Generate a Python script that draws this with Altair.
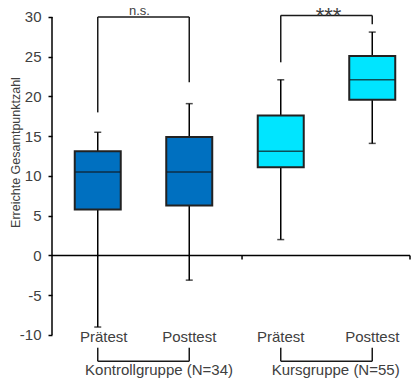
import altair as alt
import pandas as pd

# ---- data ----
tests = ["Prätest", "Posttest", "Prätest", "Posttest"]
groups = ["Kontrollgruppe (N=34)", "Kontrollgruppe (N=34)", "Kursgruppe (N=55)", "Kursgruppe (N=55)"]
positions = [0, 1, 2, 3]
whisker_low = [-9.0, -3.1, 2.0, 14.1]
q1 = [5.8, 6.3, 11.1, 19.6]
median = [10.5, 10.5, 13.1, 22.1]
q3 = [13.1, 14.9, 17.6, 25.1]
whisker_high = [15.5, 19.1, 22.1, 28.1]

group_names = ["Kontrollgruppe (N=34)", "Kursgruppe (N=55)"]
group_colors = ["#0070C0", "#00E5FF"]
group_first = [0, 2]
group_last = [1, 3]
group_label_pos = [0.67, 2.6]

sig_labels = ["n.s.", "***"]
sig_first = [0, 2]
sig_last = [1, 3]
sig_top = [30.0, 30.2]
sig_left_end = [18.0, 24.3]
sig_right_end = [21.8, 29.1]

y_ticks = [-10, -5, 0, 5, 10, 15, 20, 25, 30]

FONT = "Liberation Sans"
TXT = "#404040"
LINE = "#1a1a1a"

X_MIN, X_MAX = -0.5, 3.4126
Y_MIN, Y_MAX = -15.41, 31.13
group_sep = [1.577, X_MAX]

df = pd.DataFrame(dict(pos=positions, test=tests, group=groups, lo=whisker_low,
                       q1=q1, med=median, q3=q3, hi=whisker_high))

xscale = alt.Scale(domain=[X_MIN, X_MAX], nice=False, zero=False, padding=0)
yscale = alt.Scale(domain=[Y_MIN, Y_MAX], nice=False, zero=False, padding=0)

yaxis = alt.Axis(values=y_ticks, domain=False, grid=False, tickSize=4, tickColor="#000",
                 tickWidth=1.5, labelFontSize=15, labelColor=TXT, labelFont=FONT, labelPadding=7,
                 labelExpr="'' + datum.value",
                 title="Erreichte Gesamtpunktzahl", titleFontSize=12.5, titleFontWeight="normal",
                 titleColor=TXT, titleFont=FONT, titleX=-37, titleY=144, titleAngle=270,
                 titleAlign="center", titleBaseline="middle")


def X(f):
    return alt.X(f, type="quantitative", scale=xscale, axis=None)


def Y(f):
    return alt.Y(f, type="quantitative", scale=yscale, axis=yaxis)


base = alt.Chart(df)

# whiskers
whisk_up = base.mark_rule(color="#000", strokeWidth=1.5).encode(x=X("pos"), y=Y("q3"), y2="hi:Q")
whisk_dn = base.mark_rule(color="#000", strokeWidth=1.5).encode(x=X("pos"), y=Y("lo"), y2="q1:Q")
cap_hi = base.mark_tick(orient="horizontal", size=7, thickness=1.5, color="#000").encode(x=X("pos"), y=Y("hi"))
cap_lo = base.mark_tick(orient="horizontal", size=7, thickness=1.5, color="#000").encode(x=X("pos"), y=Y("lo"))

boxes = base.mark_bar(size=46, stroke="#222", strokeWidth=2).encode(
    x=X("pos"), y=Y("q1"), y2="q3:Q",
    color=alt.Color("group:N", scale=alt.Scale(domain=group_names, range=group_colors), legend=None))
med = base.mark_tick(orient="horizontal", size=45, thickness=1.5, color="#111").encode(x=X("pos"), y=Y("med"))

# axes lines
axis_df = pd.DataFrame({"x": [X_MIN], "y": [min(y_ticks)], "y2": [max(y_ticks)]})
y_line = alt.Chart(axis_df).mark_rule(color="#000", strokeWidth=1.5).encode(x=X("x"), y=Y("y"), y2="y2:Q")
zero_df = pd.DataFrame({"x": [X_MIN], "x2": [X_MAX], "y": [0]})
zero_line = alt.Chart(zero_df).mark_rule(color="#000", strokeWidth=1.5).encode(x=X("x"), x2="x2:Q", y=Y("y"))
sep_df = pd.DataFrame({"x": group_sep, "y": [0, 0], "y2": [-0.5, -0.5]})
sep_ticks = alt.Chart(sep_df).mark_rule(color="#000", strokeWidth=1.5).encode(x=X("x"), y=Y("y"), y2="y2:Q")

# category labels (first one sits slightly right in the reference)
cat_first = alt.Chart(df.iloc[[0]]).mark_text(font=FONT, fontSize=15, color=TXT, baseline="middle", dx=6).encode(
    x=X("pos"), y=Y("ly"), text="test:N").transform_calculate(ly="-10.2")
cat_rest = alt.Chart(df.iloc[1:]).mark_text(font=FONT, fontSize=15, color=TXT, baseline="middle").encode(
    x=X("pos"), y=Y("ly"), text="test:N").transform_calculate(ly="-10.2")

# group brackets at bottom
gb_rows = []
for a, b in zip(group_first, group_last):
    gb_rows.append({"x": a, "x2": a, "y": -11.6, "y2": -13.3})
    gb_rows.append({"x": b, "x2": b, "y": -11.6, "y2": -13.3})
    gb_rows.append({"x": a, "x2": b, "y": -13.3, "y2": -13.3})
gb = alt.Chart(pd.DataFrame(gb_rows)).mark_rule(color=LINE, strokeWidth=1.5).encode(
    x=X("x"), x2="x2:Q", y=Y("y"), y2="y2:Q")
gl_df = pd.DataFrame({"x": group_label_pos, "y": [Y_MIN, Y_MIN], "t": group_names})
group_labels = alt.Chart(gl_df).mark_text(font=FONT, fontSize=15, color=TXT, baseline="bottom").encode(
    x=X("x"), y=Y("y"), text="t:N")

# significance brackets
sb_rows = []
for a, b, t, le, re in zip(sig_first, sig_last, sig_top, sig_left_end, sig_right_end):
    sb_rows.append({"x": a, "x2": a, "y": t, "y2": le})
    sb_rows.append({"x": b, "x2": b, "y": t, "y2": re})
    sb_rows.append({"x": a, "x2": b, "y": t, "y2": t})
sb = alt.Chart(pd.DataFrame(sb_rows)).mark_rule(color=LINE, strokeWidth=1.5).encode(
    x=X("x"), x2="x2:Q", y=Y("y"), y2="y2:Q")
sig_df = pd.DataFrame({"x": [(a + b) / 2 for a, b in zip(sig_first, sig_last)], "y": sig_top, "t": sig_labels})
sig_ns = alt.Chart(sig_df.iloc[[0]]).mark_text(font=FONT, fontSize=13, color=TXT, baseline="alphabetic", dy=-1.5, dx=-4).encode(
    x=X("x"), y=Y("y"), text="t:N")
sig_star = alt.Chart(sig_df.iloc[[1]]).mark_text(font=FONT, fontSize=22, color=TXT, baseline="alphabetic", dy=8, dx=2).encode(
    x=X("x"), y=Y("y"), text="t:N")

chart = alt.layer(
    whisk_up, whisk_dn, cap_hi, cap_lo, boxes, med, y_line, zero_line, sep_ticks,
    cat_first, cat_rest, gb, group_labels, sb, sig_ns, sig_star
).properties(
    width=358, height=370,
    autosize=alt.AutoSizeParams(type="none"),
    padding={"left": 44, "top": 0, "right": 2, "bottom": 0},
).configure_view(stroke=None)

chart.save("out.html", embed_options={"renderer": "svg", "actions": False})
